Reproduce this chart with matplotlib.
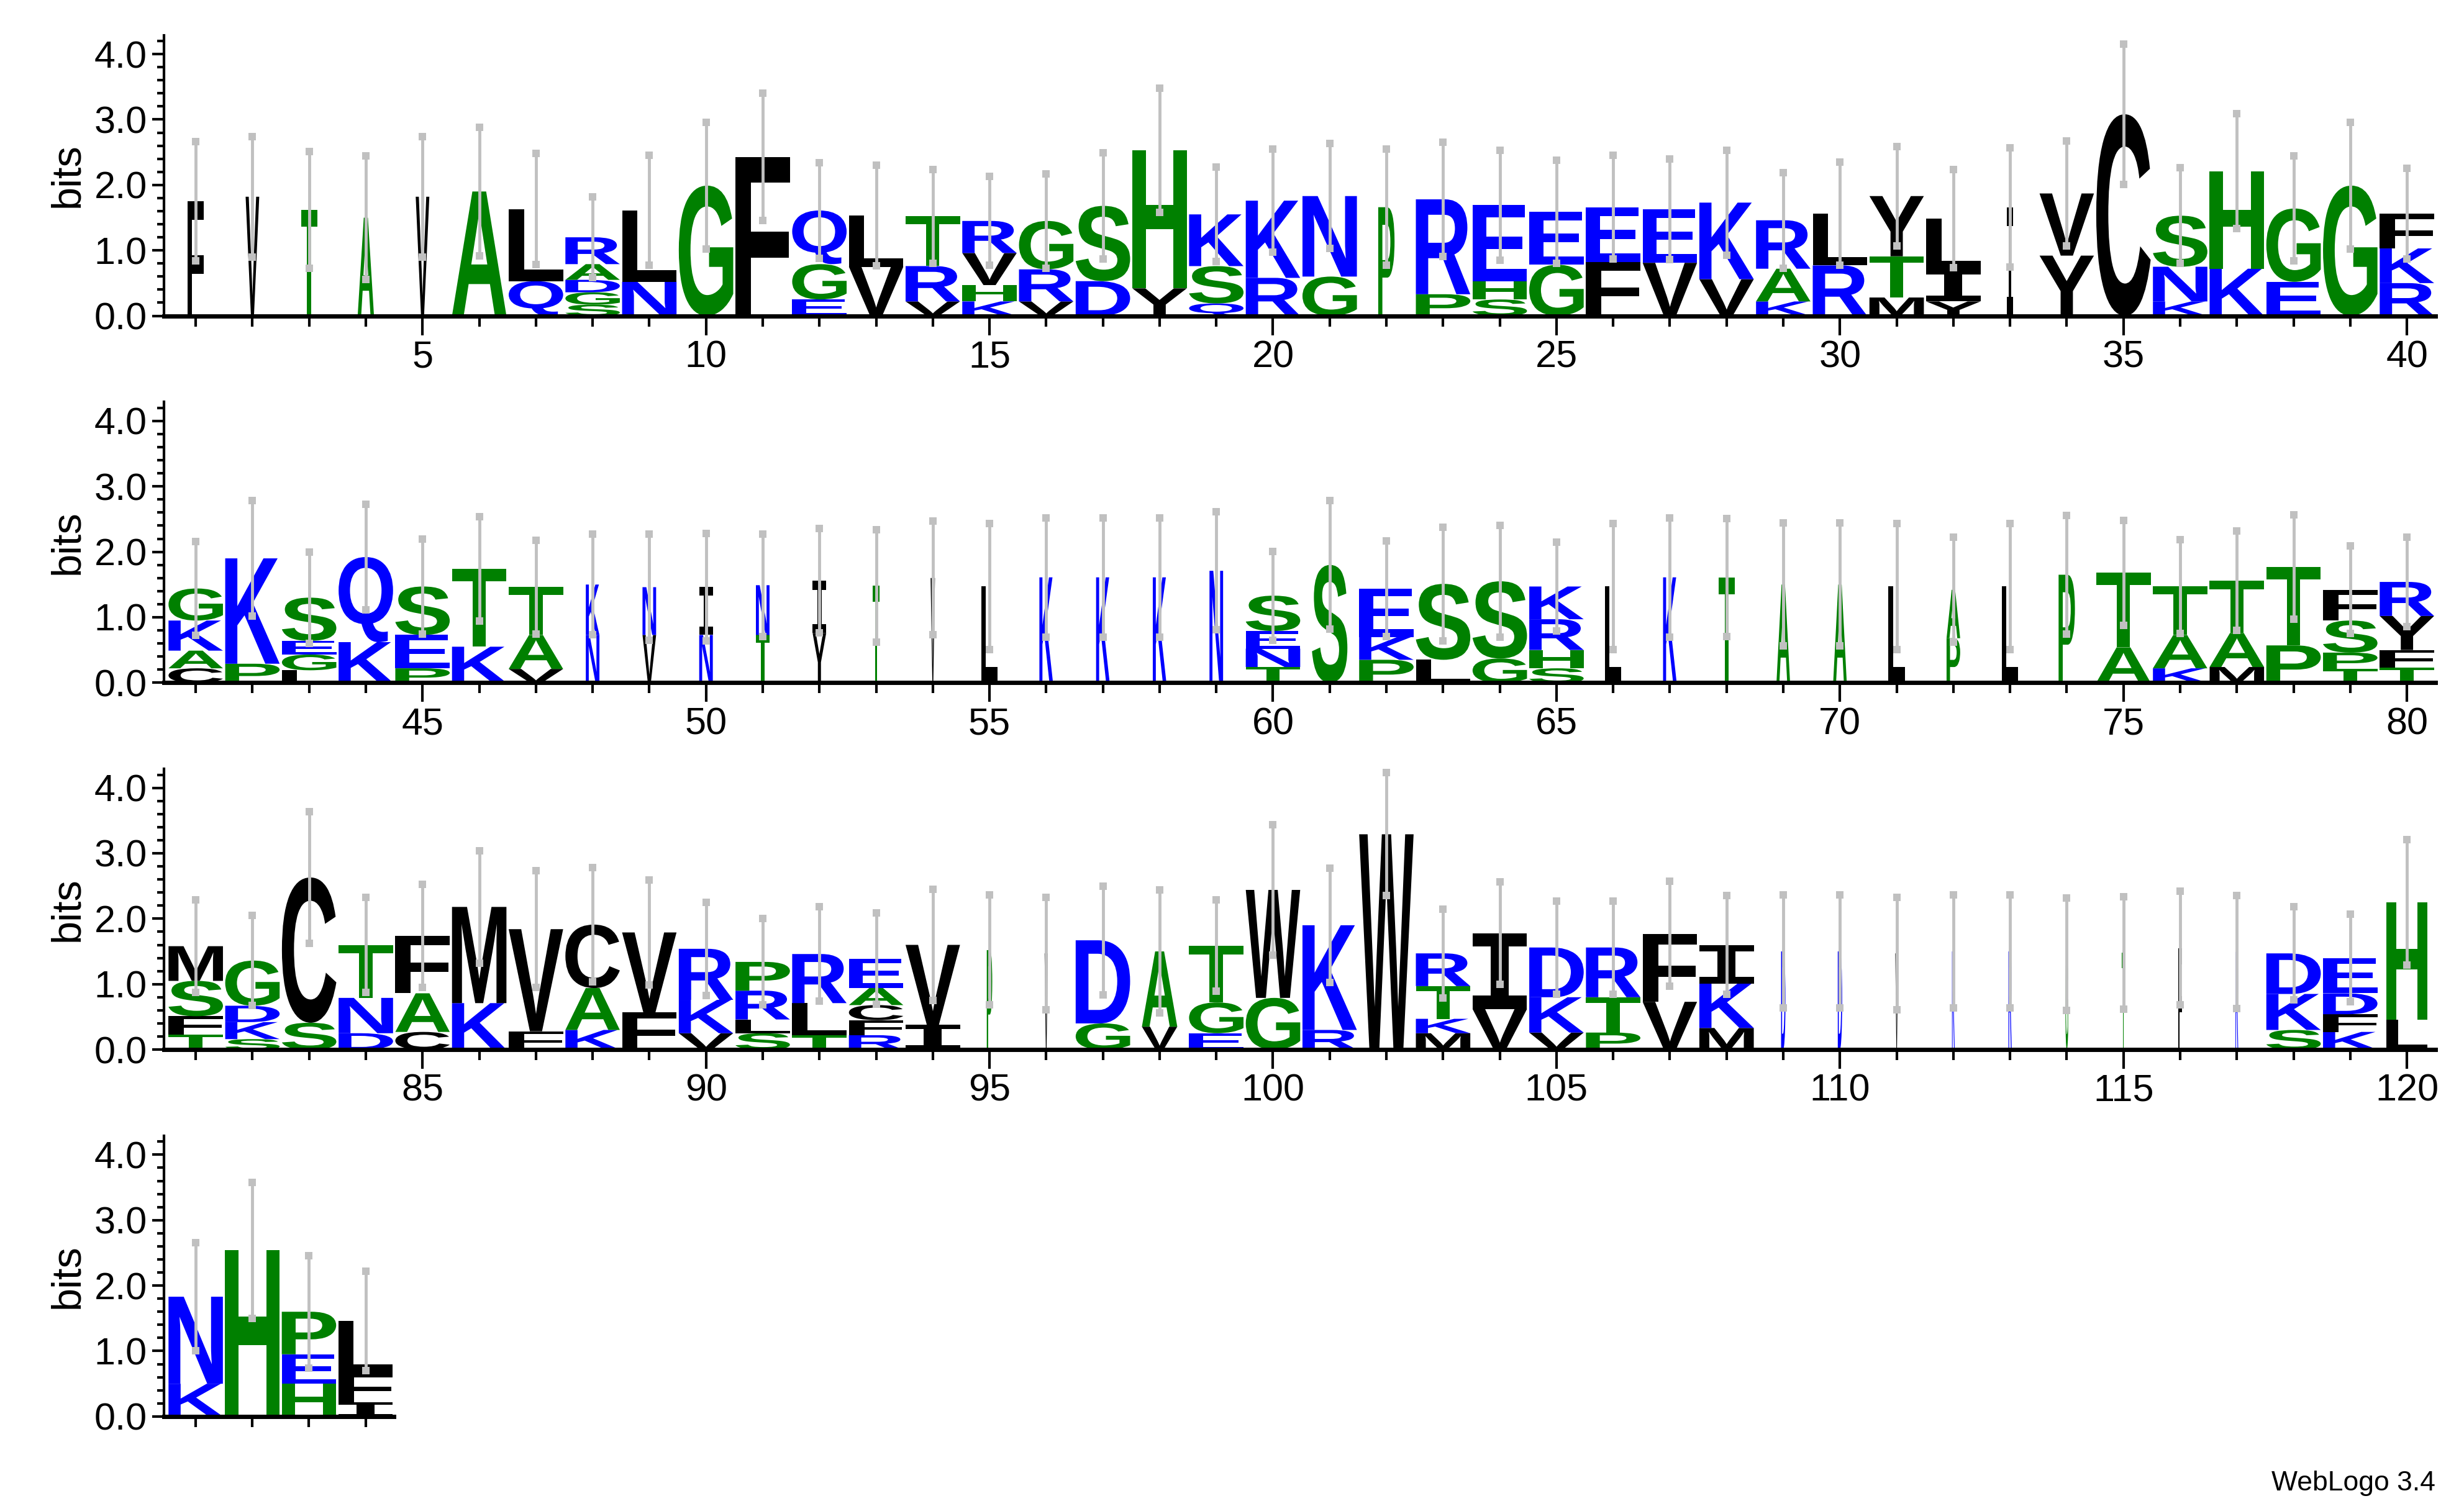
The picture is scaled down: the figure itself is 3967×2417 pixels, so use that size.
import matplotlib
matplotlib.use("Agg")
import matplotlib.pyplot as plt
from matplotlib.textpath import TextPath
from matplotlib.font_manager import FontProperties
from matplotlib.patches import PathPatch
from matplotlib.transforms import Affine2D
from matplotlib.ticker import MultipleLocator, FormatStrFormatter

plt.rcParams["font.family"] = ["Liberation Sans", "DejaVu Sans"]

# ---- data: letters stacked bottom->top, heights in bits, stack widths, error half-size
stack_letters = [
    "F", "V", "T", "A", "V", "A", "QL", "SGDAR", "NL", "G",
    "F", "EGQ", "VL", "VRT", "KHVR", "VRG", "DS", "YH", "QSK", "RK",
    "GN", "P", "PR", "SHE", "GE", "FE", "VE", "VK", "KAR", "RL",
    "MTY", "YIL", "I", "YV", "C", "KNS", "KH", "EG", "G", "RKF",
    "CAKG", "PK", "LGES", "KQ", "PES", "KT", "VAT", "NK", "VN", "NI",
    "TN", "YI", "T", "V", "L", "K", "K", "K", "N", "TNES",
    "S", "PKE", "LS", "GS", "SHRK", "L", "K", "T", "A", "A",
    "L", "PA", "L", "P", "AT", "KAT", "MAT", "PT", "TPSF", "TFYR",
    "TFSM", "SKDG", "SC", "DNT", "CAF", "KM", "FV", "KAC", "FV", "VKR",
    "SLRP", "TLR", "RFCAE", "IV", "P", "V", "GD", "VA", "EGT", "GW",
    "RK", "W", "MKTR", "VI", "VKD", "PTR", "VF", "MKI", "D", "D",
    "V", "K", "R", "G", "T", "F", "R", "SKD", "KFDE", "LH",
    "KN", "H", "HEP", "IFL",
]
stack_heights = [
    [1.75], [1.82], [1.62], [1.50], [1.82], [1.90], [0.53, 1.10], [0.17, 0.19, 0.19, 0.24, 0.41], [0.52, 1.09], [1.99],
    [2.43], [0.25, 0.54, 0.82], [0.75, 0.78], [0.22, 0.54, 0.76], [0.22, 0.25, 0.49, 0.49], [0.22, 0.49, 0.74], [0.53, 1.15], [0.42, 2.11], [0.19, 0.57, 0.79], [0.58, 1.18],
    [0.60, 1.23], [1.66], [0.33, 1.45], [0.25, 0.28, 1.16], [0.78, 0.81], [0.82, 0.84], [0.81, 0.82], [0.56, 1.17], [0.22, 0.50, 0.74], [0.77, 0.79],
    [0.28, 0.63, 0.92], [0.22, 0.50, 0.77], [1.66], [0.92, 0.95], [3.08], [0.22, 0.53, 0.78], [0.72, 1.49], [0.52, 1.12], [1.99], [0.50, 0.53, 0.53],
    [0.22, 0.27, 0.46, 0.49], [0.29, 1.61], [0.19, 0.24, 0.21, 0.66], [0.62, 1.30], [0.22, 0.51, 0.74], [0.55, 1.19], [0.21, 0.52, 0.73], [0.73, 0.77], [0.73, 0.73], [0.73, 0.73],
    [0.73, 0.76], [0.76, 0.80], [1.48], [1.60], [1.47], [1.61], [1.61], [1.61], [1.71], [0.24, 0.28, 0.27, 0.54],
    [1.80], [0.35, 0.35, 0.74], [0.35, 1.16], [0.37, 1.18], [0.22, 0.28, 0.47, 0.50], [1.47], [1.61], [1.61], [1.50], [1.50],
    [1.47], [0.68, 0.74], [1.47], [1.65], [0.54, 1.14], [0.22, 0.51, 0.74], [0.24, 0.52, 0.80], [0.57, 1.20], [0.21, 0.25, 0.49, 0.47], [0.23, 0.27, 0.52, 0.52],
    [0.23, 0.28, 0.54, 0.53], [0.16, 0.26, 0.25, 0.69], [0.41, 2.22], [0.25, 0.54, 0.81], [0.27, 0.59, 0.88], [0.71, 1.47], [0.28, 1.56], [0.30, 0.64, 0.97], [0.57, 1.22], [0.25, 0.51, 0.78],
    [0.25, 0.21, 0.44, 0.44], [0.22, 0.49, 0.75], [0.22, 0.23, 0.23, 0.26, 0.45], [0.38, 1.22], [1.52], [1.47], [0.40, 1.27], [0.35, 1.15], [0.25, 0.47, 0.87], [0.79, 1.65],
    [0.30, 1.60], [3.29], [0.25, 0.22, 0.50, 0.50], [0.62, 1.16], [0.26, 0.54, 0.76], [0.26, 0.54, 0.76], [0.73, 1.04], [0.33, 0.68, 0.59], [1.50], [1.50],
    [1.47], [1.50], [1.50], [1.46], [1.48], [1.55], [1.49], [0.30, 0.55, 0.62], [0.27, 0.27, 0.32, 0.54], [0.46, 1.79],
    [0.50, 1.33], [2.54], [0.50, 0.45, 0.65], [0.22, 0.45, 0.79],
]
stack_widths = [
    0.30, 0.25, 0.30, 0.30, 0.25, 1, 1, 1, 1, 1,
    1, 1, 1, 1, 1, 1, 1, 1, 1, 1,
    1, 0.30, 1, 1, 1, 1, 1, 1, 1, 1,
    1, 1, 0.12, 1, 1, 1, 1, 1, 1, 1,
    1, 1, 1, 1, 1, 1, 1, 0.25, 0.25, 0.25,
    0.25, 0.25, 0.12, 0.08, 0.30, 0.25, 0.25, 0.25, 0.25, 1,
    0.65, 1, 1, 1, 1, 0.30, 0.25, 0.30, 0.25, 0.25,
    0.30, 0.25, 0.30, 0.30, 1, 1, 1, 1, 1, 1,
    1, 1, 1, 1, 1, 1, 1, 1, 1, 1,
    1, 1, 1, 1, 0.10, 0.06, 1, 0.65, 1, 1,
    1, 1, 1, 1, 1, 1, 1, 1, 0.08, 0.08,
    0.05, 0.05, 0.06, 0.05, 0.06, 0.06, 0.05, 1, 1, 0.75,
    1, 1, 1, 1,
]
error_sizes = [
    0.91, 0.92, 0.89, 0.94, 0.92, 0.98, 0.85, 0.62, 0.84, 0.97,
    0.97, 0.73, 0.77, 0.72, 0.68, 0.72, 0.81, 0.95, 0.72, 0.79,
    0.80, 0.89, 0.87, 0.84, 0.79, 0.79, 0.77, 0.80, 0.73, 0.79,
    0.76, 0.75, 0.91, 0.80, 1.07, 0.73, 0.88, 0.80, 0.97, 0.69,
    0.72, 0.88, 0.70, 0.81, 0.73, 0.80, 0.72, 0.77, 0.81, 0.82,
    0.78, 0.80, 0.86, 0.87, 0.96, 0.91, 0.91, 0.91, 0.90, 0.68,
    0.98, 0.73, 0.87, 0.85, 0.68, 0.96, 0.91, 0.90, 0.94, 0.94,
    0.96, 0.80, 0.96, 0.91, 0.80, 0.72, 0.76, 0.80, 0.67, 0.68,
    0.71, 0.69, 1.01, 0.73, 0.79, 0.86, 0.89, 0.87, 0.80, 0.71,
    0.66, 0.72, 0.70, 0.85, 0.84, 0.86, 0.83, 0.94, 0.70, 1.00,
    0.87, 0.94, 0.68, 0.78, 0.71, 0.71, 0.80, 0.75, 0.86, 0.86,
    0.86, 0.86, 0.86, 0.86, 0.86, 0.87, 0.86, 0.71, 0.67, 0.96,
    0.83, 1.04, 0.86, 0.76,
]
row_starts = [1, 41, 81, 121]
per_row = 40

GREEN, BLUE, BLACK = "#008000", "#0000ff", "#000000"
def color_of(c):
    if c in "GSTAHP":
        return GREEN
    if c in "KRNQDE":
        return BLUE
    return BLACK

fp = FontProperties(family="Liberation Sans", weight="bold")
fp_i = FontProperties(family="DejaVu Sans Mono", weight="bold")

def draw_letter(ax, ch, xc, y0, w, h):
    tp = TextPath((0, 0), ch, size=100, prop=fp_i if ch == "I" else fp)
    ext = tp.get_extents()
    tr = (Affine2D().translate(-ext.x0, -ext.y0)
          .scale(w / ext.width, h / ext.height)
          .translate(xc - w / 2, y0))
    ax.add_patch(PathPatch(tr.transform_path(tp), facecolor=color_of(ch),
                           edgecolor="none", lw=0))

W, H = 3967, 2417
fig = plt.figure(figsize=(W / 100, H / 100), dpi=100)
left = 103 / 1545
axw = 1424 / 1545
axh = 176 / 941
bottoms = [1 - 198 / 941, 1 - 428 / 941, 1 - 658 / 941, 1 - 888 / 941]

npos = len(stack_letters)
for r, start in enumerate(row_starts):
    end = min(start + per_row - 1, npos)
    nshow = end - start + 1
    ax = fig.add_axes([left, bottoms[r], axw * (nshow + 0.05) / (per_row + 0.05), axh])
    ax.set_xlim(start - 0.555, end + 0.5)
    ax.set_ylim(0, 4.29)
    for p in range(start, end + 1):
        i = p - 1
        w = 0.96 * stack_widths[i]
        y = 0.0
        for ch, h in zip(stack_letters[i], stack_heights[i]):
            draw_letter(ax, ch, p, y, w, h)
            y += h
        e = error_sizes[i]
        ax.plot([p, p], [y - e, y + e], color="#c0c0c0", lw=3.5, zorder=5,
                marker="s", markersize=9, markeredgewidth=0, solid_capstyle="butt")
    for s in ["top", "right"]:
        ax.spines[s].set_visible(False)
    ax.spines["bottom"].set_linewidth(5)
    ax.spines["left"].set_linewidth(3)
    ax.xaxis.set_major_locator(MultipleLocator(5))
    ax.xaxis.set_minor_locator(MultipleLocator(1))
    ax.yaxis.set_major_locator(MultipleLocator(1.0))
    ax.yaxis.set_minor_locator(MultipleLocator(0.2))
    ax.yaxis.set_major_formatter(FormatStrFormatter("%.1f"))
    ax.tick_params(axis="x", which="major", length=22, width=3, labelsize=44, pad=6)
    ax.tick_params(axis="x", which="minor", length=12, width=3)
    ax.tick_params(axis="y", which="major", length=14, width=3, labelsize=44, pad=6)
    ax.tick_params(axis="y", which="minor", length=8, width=3)
    ax.set_ylabel("bits", fontsize=48, labelpad=8)
    ax.patch.set_alpha(0)

fig.text(1527 / 1545, 1 - 950 / 941 + 0.013, "WebLogo 3.4", ha="right", va="bottom",
         fontsize=32)
fig.savefig("out.png", dpi=100)
